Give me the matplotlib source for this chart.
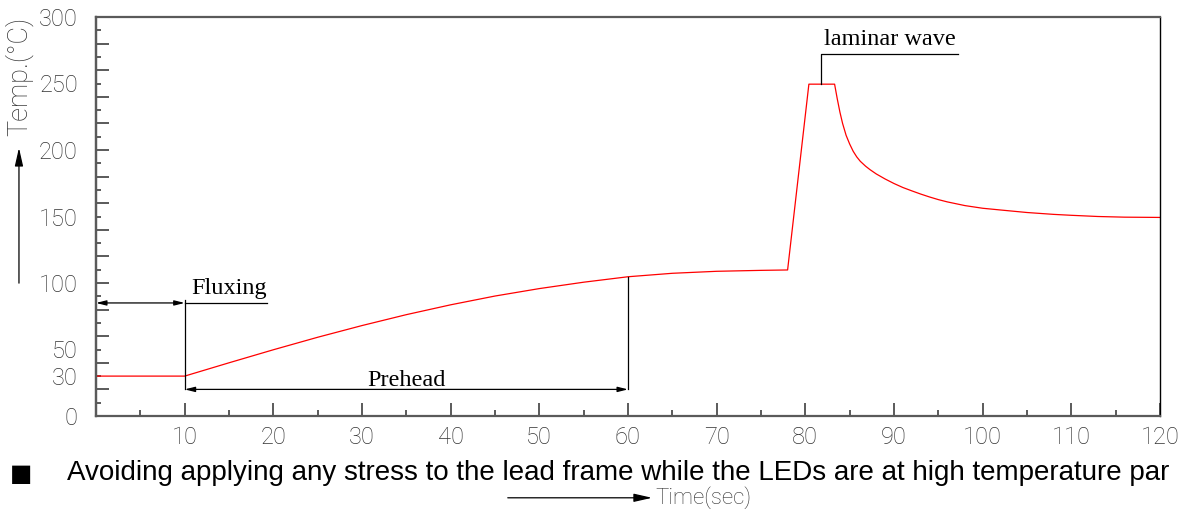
import matplotlib.pyplot as plt
import numpy as np

# Reflow solder profile: time (s) vs temperature (deg C)
time_s = [0, 10, 15, 20, 25, 30, 35, 40, 45, 50, 55, 60, 65, 70, 75, 78,
          80.4, 83.3, 83.6, 83.9, 84.2, 84.6, 85, 85.4, 85.8, 86.2, 86.8, 87.3, 88, 89, 90, 91,
          92, 93, 94, 95, 96, 98, 100, 102, 105, 108, 110, 113, 116, 120]
temp_c = [30, 30, 40, 49.8, 59.2, 68, 76.2, 83.6, 90.2, 95.8, 100.6, 104.7, 107.3, 108.8, 109.5, 109.8,
          249.5, 249.5, 238.5, 228.5, 220, 211, 204.5, 199, 194.8, 191.5, 187.8, 185.2, 182, 178.2, 174.8, 171.8,
          169.3, 166.9, 164.7, 162.7, 161, 158.2, 156.2, 154.9, 153, 151.6, 150.9, 150, 149.5, 149.3]

y_label_vals = [0, 30, 50, 100, 150, 200, 250, 300]
x_label_vals = [10, 20, 30, 40, 50, 60, 70, 80, 90, 100, 110, 120]

flux_start, flux_end, flux_y, flux_line_end = 0, 10, 85, 19.3
preheat_end, preheat_y = 60, 20
wave_x, wave_top, wave_line_end = 81.8, 272.5, 97.2

gray = '#5a5a5a'
label_gray = '#333333'
tick_font = dict(family=['Roboto', 'DejaVu Sans'], weight='light')
serif = ['Liberation Serif', 'DejaVu Serif']

fig = plt.figure(figsize=(11.85, 5.09), dpi=100)
ax = fig.add_axes([96 / 1185, 1 - 416 / 509, 1064 / 1185, 399 / 509])

ax.plot(time_s, temp_c, color='red', lw=0.9)
ax.set_xlim(0, 120)
ax.set_ylim(0, 300)

for side in ['left', 'top', 'bottom']:
    ax.spines[side].set_color(gray)
    ax.spines[side].set_linewidth(1.6)
ax.spines['right'].set_color('black')
ax.spines['right'].set_linewidth(1.0)

# y labels on main axis, tick marks on a secondary axis
ax.set_yticks(y_label_vals)
ax.set_yticklabels([str(v) for v in y_label_vals], color=label_gray, fontsize=17, **tick_font)
ax.tick_params(axis='y', length=0, pad=13)
sec = ax.secondary_yaxis('left')
sec.set_yticks(np.arange(0, 301, 20))
sec.set_yticks(np.arange(10, 300, 20), minor=True)
sec.tick_params(axis='y', which='major', direction='in', length=9.5, width=1.4, color=gray, labelleft=False)
sec.tick_params(axis='y', which='minor', direction='in', length=3.3, width=1.4, color=gray)
sec.spines['left'].set_color(gray)
sec.spines['left'].set_linewidth(1.6)

ax.set_xticks(np.arange(0, 121, 10))
ax.set_xticks(np.arange(5, 120, 10), minor=True)
ax.set_xticklabels([''] + [str(v) for v in x_label_vals], color=label_gray, fontsize=17, **tick_font)
ax.tick_params(axis='x', which='major', direction='in', length=9.5, width=1.4, color=gray, pad=7)
ax.tick_params(axis='x', which='minor', direction='in', length=4.5, width=1.4, color=gray)

# Fluxing
small = dict(arrowstyle='<|-|>,head_length=0.6,head_width=0.15', color='black', lw=0.9,
             shrinkA=0, shrinkB=0, mutation_scale=10)
ax.annotate('', xy=(flux_start, flux_y), xytext=(flux_end, flux_y), arrowprops=small)
ax.plot([flux_end, flux_line_end], [flux_y, flux_y], color='black', lw=0.9)
ax.plot([flux_end, flux_end], [flux_y + 2, preheat_y], color='black', lw=0.9)
ax.text(flux_end + 0.7, 92, 'Fluxing', family=serif, fontsize=17.5, va='baseline', ha='left')

# Prehead
ax.annotate('', xy=(flux_end, preheat_y), xytext=(preheat_end, preheat_y), arrowprops=small)
ax.plot([preheat_end, preheat_end], [preheat_y, np.interp(preheat_end, time_s, temp_c)],
        color='black', lw=0.9)
ax.text((flux_end + preheat_end) / 2, 22.6, 'Prehead', family=serif, fontsize=17.5,
        va='baseline', ha='center')

# laminar wave
ax.plot([wave_x, wave_x, wave_line_end], [max(temp_c), wave_top, wave_top], color='black', lw=0.9)
ax.text(82.1, 278.7, 'laminar wave', family=serif, fontsize=17.5, va='baseline', ha='left')

# axis titles with arrows
big = dict(arrowstyle='-|>,head_length=1.1,head_width=0.25', color='black', lw=0.9,
           shrinkA=0, shrinkB=0, mutation_scale=10)
ax.annotate('', xy=(-0.0724, 0.672), xytext=(-0.0724, 0.333), xycoords='axes fraction',
            arrowprops=big, annotation_clip=False)
ax.text(-0.0724, 0.852, 'Temp.(°C)', transform=ax.transAxes, rotation=90, ha='center',
        va='center', color=label_gray, fontsize=19.5, **tick_font)
ax.annotate('', xy=(0.5226, -0.205), xytext=(0.387, -0.205), xycoords='axes fraction',
            arrowprops=big, annotation_clip=False)
ax.text(0.5254, -0.205, 'Time(sec)', transform=ax.transAxes, ha='left', va='center',
        color=label_gray, fontsize=16, **tick_font)

fig.text(10 / 1185, 1 - 474 / 509, '■', fontsize=17, va='center', ha='left', family='DejaVu Sans')
fig.text(67 / 1185, 1 - 473 / 509,
         'Avoiding applying any stress to the lead frame while the LEDs are at high temperature par',
         fontsize=20.0, va='center', ha='left', family=['Liberation Sans', 'DejaVu Sans'])

fig.savefig('out.png', dpi=100)
